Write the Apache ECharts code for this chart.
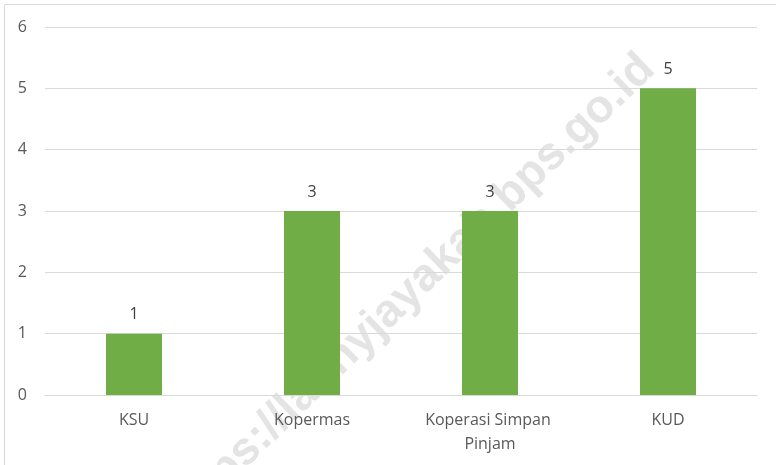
<!DOCTYPE html>
<html>
<head>
<meta charset="utf-8">
<style>
    html, body { margin: 0; padding: 0; background: #fff; }
    #chart { width: 776px; height: 465px; }
</style>
<script src="https://cdn.jsdelivr.net/npm/echarts@6/dist/echarts.min.js"></script>
</head>
<body>
<div id="chart"></div>
<script>
var categories = ['KSU', 'Kopermas', 'Koperasi Simpan Pinjam', 'KUD'];
var jumlah = [1, 3, 3, 5];
var yTicks = [0, 1, 2, 3, 4, 5, 6];

var myChart = echarts.init(document.getElementById('chart'));
var option = {
    animation: false,
    textStyle: { fontFamily: 'Open Sans' },
    grid: { left: 45, right: 19, top: 27, bottom: 70 },
    graphic: [
        {
            type: 'rect',
            shape: { x: 4.5, y: 4.5, width: 900, height: 600 },
            style: { fill: 'none', stroke: '#d9d9d9', lineWidth: 1 },
            silent: true
        },
        {
            // watermark
            type: 'text',
            x: 648,
            y: 62,
            rotation: 44 * Math.PI / 180,
            style: {
                text: 'https://lannyjayakab.bps.go.id',
                fill: '#e4e4e4',
                font: 'bold 46px "Liberation Sans"',
                textAlign: 'right',
                textVerticalAlign: 'middle'
            },
            silent: true
        }
    ],
    xAxis: {
        type: 'category',
        data: categories,
        axisLine: { lineStyle: { color: '#d9d9d9' } },
        axisTick: { show: false },
        axisLabel: {
            color: '#595959',
            fontSize: 16,
            margin: 13,
            lineHeight: 24,
            width: 150,
            overflow: 'break',
            interval: 0
        }
    },
    yAxis: {
        type: 'value',
        min: yTicks[0],
        max: yTicks[yTicks.length - 1],
        interval: 1,
        axisLine: { show: false },
        axisTick: { show: false },
        axisLabel: { color: '#595959', fontSize: 16, margin: 18 },
        splitLine: { lineStyle: { color: '#d9d9d9' } }
    },
    series: [
        {
            type: 'bar',
            data: jumlah,
            barWidth: 56,
            itemStyle: { color: '#70ad47' },
            label: {
                show: true,
                position: 'top',
                distance: 11,
                color: '#404040',
                fontSize: 16
            }
        }
    ]
};
myChart.setOption(option);
</script>
</body>
</html>
